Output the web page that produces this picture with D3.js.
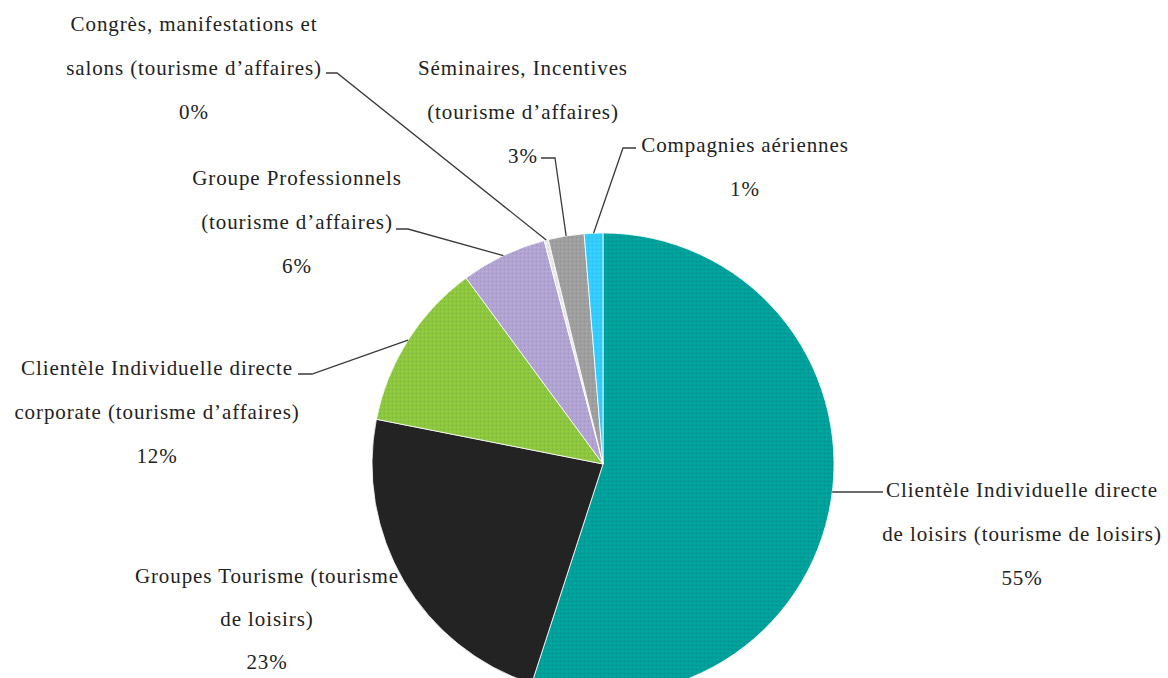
<!DOCTYPE html>
<html>
<head>
<meta charset="utf-8">
<script src="https://cdn.jsdelivr.net/npm/d3@7"></script>
<style>
  body { margin: 0; background: #fff; }
  text { font-family: "Liberation Serif", serif; font-size: 21px; letter-spacing: 0.9px; fill: #222; }
</style>
</head>
<body>
<div id="chart"></div>
<script>
// slices clockwise from 12 o'clock
let categories = [
    "Clientèle Individuelle directe de loisirs (tourisme de loisirs)",
    "Groupes Tourisme (tourisme de loisirs)",
    "Clientèle Individuelle directe corporate (tourisme d’affaires)",
    "Groupe Professionnels (tourisme d’affaires)",
    "Congrès, manifestations et salons (tourisme d’affaires)",
    "Séminaires, Incentives (tourisme d’affaires)",
    "Compagnies aériennes"
]
let shares = [55.0, 23.1, 11.8, 6.0, 0.3, 2.5, 1.3]
let colors = ["#00a09b", "#232323", "#8dc63f", "#b1a3d2", "#e8e8e8", "#9f9f9f", "#33ccff"]

// how the label text is broken into lines, per slice
let labelLines = [
    ["Clientèle Individuelle directe", "de loisirs (tourisme de loisirs)"],
    ["Groupes Tourisme (tourisme", "de loisirs)"],
    ["Clientèle Individuelle directe", "corporate (tourisme d’affaires)"],
    ["Groupe Professionnels", "(tourisme d’affaires)"],
    ["Congrès, manifestations et", "salons (tourisme d’affaires)"],
    ["Séminaires, Incentives", "(tourisme d’affaires)"],
    ["Compagnies aériennes"]
]

let width = 1168, height = 678
let cx = 603, cy = 464, radius = 231
let lineGap = 44

// label placement (centre x, y of first line) and leader elbow (label end, bend)
let placement = [
    {x: 1022, y: 490, leader: [[883, 492], [860, 492]], flat: true},
    {x: 267, y: 576, lineGap: 43, leader: null},
    {x: 157, y: 368, leader: [[298, 374], [312, 374]]},
    {x: 297, y: 178, leader: [[396, 229], [408, 229]]},
    {x: 194, y: 24, leader: [[326, 73], [337, 73]]},
    {x: 523, y: 68, leader: [[541, 158], [555, 158]]},
    {x: 745, y: 145, leader: [[636, 148], [623, 148]]}
]

let svg = d3.select('#chart')
            .append('svg')
                .attr('width', width)
                .attr('height', height)

// dotted texture like the original fills
let defs = svg.append('defs')
colors.forEach((c, i) => {
    let p = defs.append('pattern')
        .attr('id', 'fill' + i)
        .attr('width', 4).attr('height', 4)
        .attr('patternUnits', 'userSpaceOnUse')
    p.append('rect').attr('width', 4).attr('height', 4).attr('fill', c)
    p.append('rect').attr('x', 1).attr('y', 1).attr('width', 1).attr('height', 1)
        .attr('fill', d3.color(c).darker(0.35))
    p.append('rect').attr('x', 3).attr('y', 3).attr('width', 1).attr('height', 1)
        .attr('fill', d3.color(c).brighter(0.25))
})

let pie = d3.pie().sort(null).value(d => d)
let arcs = pie(shares)
let arc = d3.arc().innerRadius(0).outerRadius(radius)

let g = svg.append('g').attr('transform', `translate(${cx},${cy})`)

g.selectAll('path.slice')
    .data(arcs)
    .enter()
    .append('path')
        .attr('class', 'slice')
        .attr('d', arc)
        .attr('fill', (d, i) => `url(#fill${i})`)
        .attr('stroke', '#fff')
        .attr('stroke-width', 0.8)

// leader lines
arcs.forEach((d, i) => {
    let pl = placement[i]
    if (!pl.leader) return
    let mid = (d.startAngle + d.endAngle) / 2
    let end
    if (pl.flat) {
        let dy = pl.leader[1][1] - cy
        end = [cx + Math.sqrt(radius * radius - dy * dy), pl.leader[1][1]]
    } else {
        end = [cx + radius * Math.sin(mid), cy - radius * Math.cos(mid)]
    }
    let pts = pl.leader.concat([end])
    svg.append('path')
        .attr('d', d3.line()(pts))
        .attr('fill', 'none')
        .attr('stroke', '#3a3a3a')
        .attr('stroke-width', 1.3)
})

// labels
categories.forEach((c, i) => {
    let pl = placement[i]
    let gap = pl.lineGap || lineGap
    let lines = labelLines[i].concat([Math.round(shares[i]) + '%'])
    let t = svg.append('text')
        .attr('text-anchor', 'middle')
    lines.forEach((ln, k) => {
        t.append('tspan')
            .attr('x', pl.x)
            .attr('y', pl.y + k * gap)
            .attr('dy', '0.32em')
            .text(ln)
    })
})
</script>
</body>
</html>
